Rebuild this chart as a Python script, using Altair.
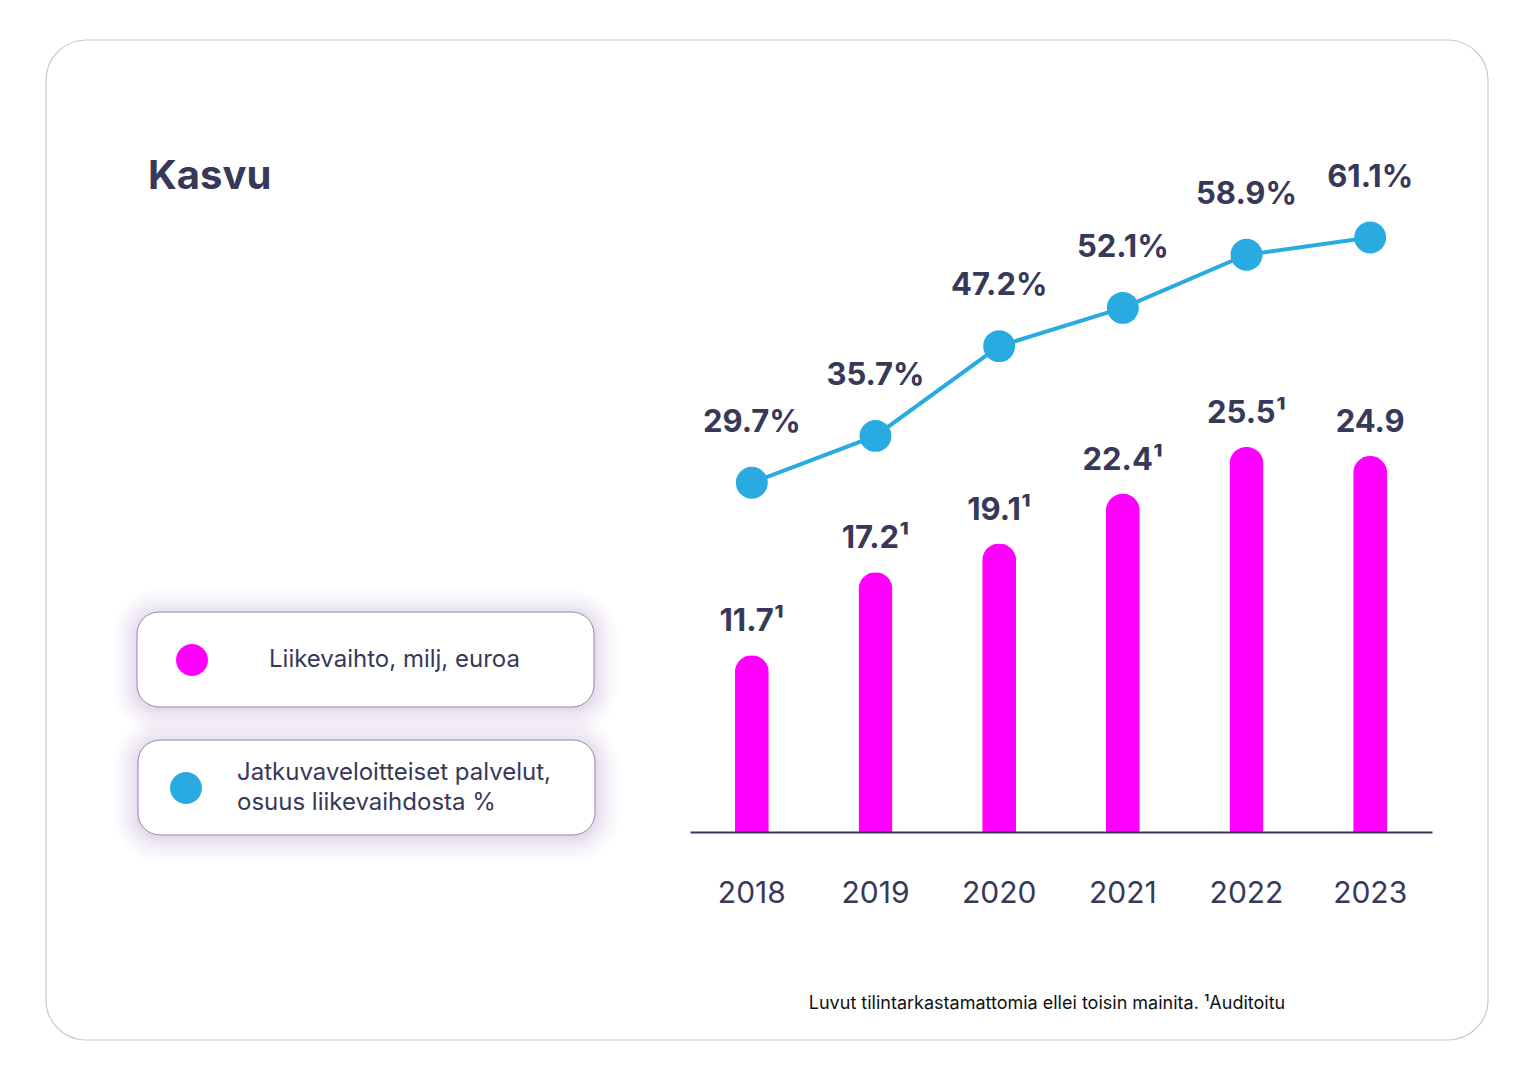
import altair as alt
import pandas as pd

# ---- data ----
years = ["2018", "2019", "2020", "2021", "2022", "2023"]
revenue = [11.7, 17.2, 19.1, 22.4, 25.5, 24.9]          # Liikevaihto, milj. euroa
audited = [True, True, True, True, True, False]
share = [29.7, 35.7, 47.2, 52.1, 58.9, 61.1]            # Jatkuvaveloitteiset palvelut, %

title_text = "Kasvu"
legend_1 = "Liikevaihto, milj, euroa"
legend_2 = ["Jatkuvaveloitteiset palvelut,", "osuus liikevaihdosta %"]
footnote = "Luvut tilintarkastamattomia ellei toisin mainita. \u00b9Auditoitu"

NAVY = "#383858"
MAGENTA = "#ff00ff"
BLUE = "#29abe2"
FONT = "Inter"

df = pd.DataFrame({
    "year": years,
    "revenue": revenue,
    "rev_label": [f"{v:.1f}" + ("\u00b9" if a else "") for v, a in zip(revenue, audited)],
    "share": share,
    "share_label": [f"{v:.1f}%" for v in share],
})
one = pd.DataFrame({"k": [0]})

xscale = alt.Scale(type="band", domain=years, range=[682, 1424], paddingInner=0, paddingOuter=0)
xaxis = alt.Axis(
    title=None, ticks=False, domain=True, domainColor=NAVY, domainWidth=2,
    labelFont=FONT, labelFontSize=30, labelColor=NAVY, labelPadding=46, labelAngle=0,
    labelFontWeight="normal", grid=False, zindex=2,
)
X = alt.X("year:N", scale=xscale, axis=xaxis)
ybar = alt.Y("revenue:Q", scale=alt.Scale(domain=[0, 30], range=[824, 371]), axis=None)
yline = alt.Y("share:Q", scale=alt.Scale(domain=[0, 100], range=[706.7, -74.2]), axis=None)


def rect(x, x2, y, y2, **kw):
    return alt.Chart(one).mark_rect(**kw).encode(
        x=alt.value(x), x2=alt.value(x2), y=alt.value(y), y2=alt.value(y2))


def label(txt, x, y, **kw):
    return alt.Chart(one).mark_text(font=FONT, **kw).encode(
        x=alt.value(x), y=alt.value(y), text=alt.value(txt))


layers = []
# card
layers.append(rect(38, 1480, 32, 1032, fill="white", stroke="#cbc9d6", strokeWidth=1.2, cornerRadius=40))

# legend boxes with soft shadow
boxes = [(129, 586, 604, 699), (130, 587, 732, 827)]
for (bx, bx2, by, by2) in boxes:
    for e in [24, 20, 16, 13, 10, 7, 5, 3, 1]:
        layers.append(rect(bx - e, bx2 + e, by - e + 2, by2 + e + 2,
                           fill="#6c66a8", opacity=0.022, cornerRadius=22 + e))
for (bx, bx2, by, by2) in boxes:
    layers.append(rect(bx, bx2, by, by2, fill="white", stroke="#8c8aa6", strokeWidth=1, cornerRadius=22))

layers.append(alt.Chart(one).mark_circle(size=1018, opacity=1, color=MAGENTA).encode(
    x=alt.value(184), y=alt.value(652)))
layers.append(alt.Chart(one).mark_circle(size=1018, opacity=1, color=BLUE).encode(
    x=alt.value(178), y=alt.value(780)))
layers.append(label(legend_1, 261, 652, fontSize=24, color=NAVY, align="left", baseline="middle"))
layers.append(label(legend_2[0], 229, 765, fontSize=24, color=NAVY, align="left", baseline="middle"))
layers.append(label(legend_2[1], 229, 795, fontSize=24, color=NAVY, align="left", baseline="middle"))

# title & footnote
layers.append(label(title_text, 140, 169, fontSize=40, fontWeight="bold", color=NAVY, align="left", baseline="middle"))
layers.append(label(footnote, 1039, 996, fontSize=18, color="#111111", align="center", baseline="middle"))

# data marks
base = alt.Chart(df)
bars = base.mark_bar(size=34, color=MAGENTA, cornerRadiusTopLeft=17, cornerRadiusTopRight=17).encode(
    x=X, y=ybar)
bar_labels = base.mark_text(font=FONT, fontSize=31, fontWeight="bold", color=NAVY, dy=-33,
                            baseline="middle").encode(x=X, y=ybar, text="rev_label:N")
line = base.mark_line(color=BLUE, strokeWidth=4).encode(x=X, y=yline)
points = base.mark_circle(size=1018, color=BLUE, opacity=1).encode(x=X, y=yline)
line_labels = base.mark_text(font=FONT, fontSize=31, fontWeight="bold", color=NAVY, dy=-60,
                             baseline="middle").encode(x=X, y=yline, text="share_label:N")

layers += [bars, bar_labels, line, points, line_labels]

chart = alt.layer(*layers).resolve_scale(y="independent").properties(
    width=1500, height=824,
    padding={"left": 0, "top": 0, "right": 0, "bottom": 226},
    autosize=alt.AutoSizeParams(type="none"),
).configure_view(stroke=None)

chart.save("out.html", embed_options={"renderer": "svg", "actions": False})
